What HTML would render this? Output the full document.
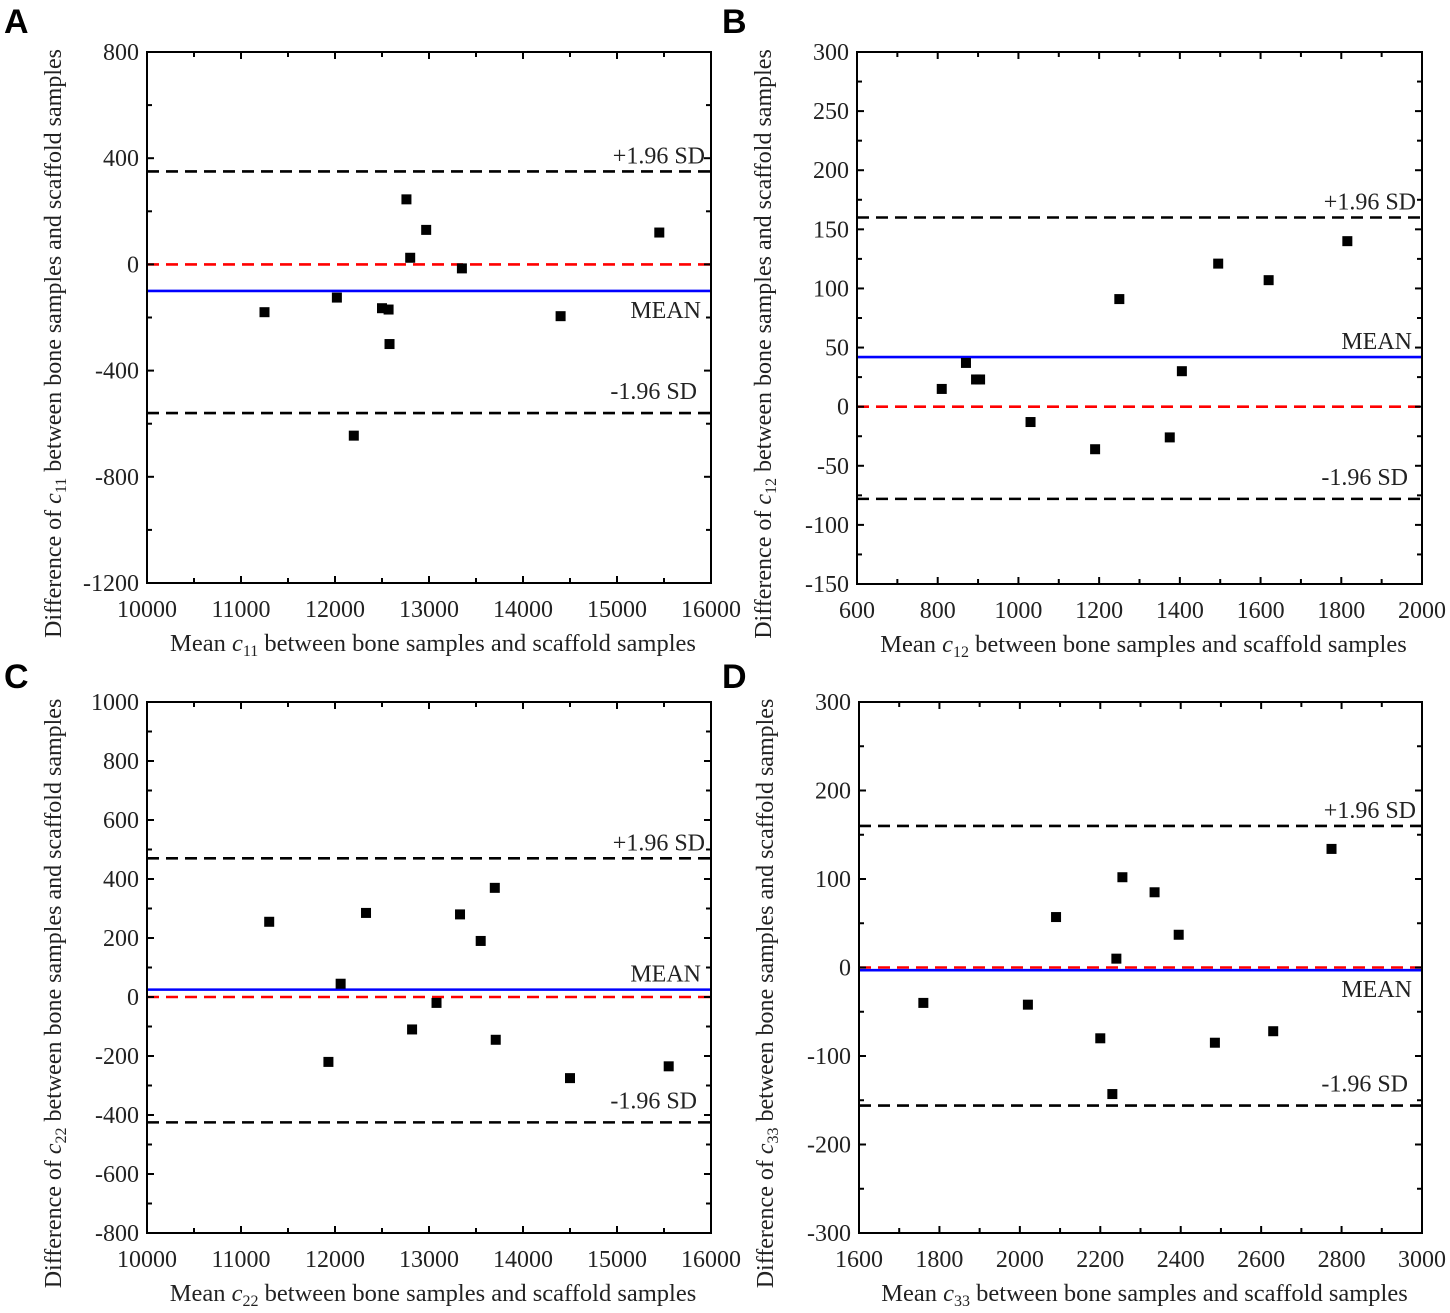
<!DOCTYPE html>
<html><head><meta charset="utf-8"><style>
body{margin:0;background:#fff;}
svg{display:block;}
svg text{font-family:"Liberation Serif",serif;}
svg text.pl{font-family:"Liberation Sans",sans-serif;font-weight:bold;font-size:34px;}
</style></head><body>
<svg id="c" width="1450" height="1313"></svg>
<script>
// Panel A data
const aX=[11250,12020,12200,12500,12570,12580,12760,12800,12970,13350,14400,15450];
const aY=[-180,-125,-645,-165,-170,-300,245,25,130,-15,-195,120];
const aLines=[-100,350,-560];
// Panel B data
const bX=[810,870,895,905,1030,1190,1250,1375,1405,1495,1620,1815];
const bY=[15,37,23,23,-13,-36,91,-26,30,121,107,140];
const bLines=[42,160,-78];
// Panel C data
const cX=[11300,11930,12060,12330,12820,13080,13330,13550,13700,13710,14500,15550];
const cY=[255,-220,45,285,-110,-20,280,190,370,-145,-275,-235];
const cLines=[25,470,-425];
// Panel D data
const dX=[1760,2020,2090,2200,2230,2240,2255,2335,2395,2485,2630,2775];
const dY=[-40,-42,57,-80,-143,10,102,85,37,-85,-72,134];
const dLines=[-3,160,-156];
const aXT=[10000,11000,12000,13000,14000,15000,16000], aYT=[800,400,0,-400,-800,-1200];
const bXT=[600,800,1000,1200,1400,1600,1800,2000], bYT=[300,250,200,150,100,50,0,-50,-100,-150];
const cXT=[10000,11000,12000,13000,14000,15000,16000], cYT=[1000,800,600,400,200,0,-200,-400,-600,-800];
const dXT=[1600,1800,2000,2200,2400,2600,2800,3000], dYT=[300,200,100,0,-100,-200,-300];

const NS="http://www.w3.org/2000/svg";
const svg=document.getElementById('c');
function mk(t,a,p){const e=document.createElementNS(NS,t);for(const k in a)e.setAttribute(k,a[k]);(p||svg).appendChild(e);return e;}
const SERIF='"Liberation Serif", serif';

function panel(o){
  const g=mk('g',{});
  
  
  const L=o.L,T=o.T,R=o.R,B=o.B;
  const x0=o.xt[0],x1=o.xt[o.xt.length-1],y0=o.yt[o.yt.length-1],y1=o.yt[0];
  const sx=v=>L+(v-x0)/(x1-x0)*(R-L), sy=v=>B-(v-y0)/(y1-y0)*(B-T);
  const lab=mk('text',{x:o.lx,y:o.ly,class:'pl'},g);lab.textContent=o.letter;
  
  
  const [m,u,l]=o.lines;
  const ln=(v,col,dash,name)=>{const e=mk('line',{x1:L,x2:R,y1:sy(v),y2:sy(v),stroke:col,'stroke-width':2.6,'stroke-dasharray':dash||'none'},g);
    };
  ln(0,'#f00','12 7','zero-line');
  ln(u,'#000','12 7','upper-limit-line');
  ln(l,'#000','12 7','lower-limit-line');
  ln(m,'#00f',null,'mean-line');
  const txt=(s,x,y,anchor,name,size)=>{const e=mk('text',{x:x,y:y,'text-anchor':anchor,'font-size':size||24,fill:'#222','font-family':SERIF},g);e.textContent=s;
    return e;};
  txt('+1.96 SD',R-6,sy(u)-8,'end','upper-limit-label');
  txt('-1.96 SD',R-14,sy(l)-14,'end','lower-limit-label');
  txt('MEAN',R-10,o.meanBelow?sy(m)+27:sy(m)-8,'end','mean-label');
  o.x.forEach((v,i)=>{const r=mk('rect',{x:sx(v)-5,y:sy(o.y[i])-5,width:10,height:10,fill:'#000'},g);
    });
  const bx=mk('rect',{x:L,y:T,width:R-L,height:B-T,fill:'none',stroke:'#000','stroke-width':2},g);
  
  o.xt.forEach((v,i)=>{const X=sx(v);
    mk('line',{x1:X,x2:X,y1:B,y2:B-7,stroke:'#000','stroke-width':2},g);
    mk('line',{x1:X,x2:X,y1:T,y2:T+7,stroke:'#000','stroke-width':2},g);
    if(i<o.xt.length-1){const Xm=sx((v+o.xt[i+1])/2);
      mk('line',{x1:Xm,x2:Xm,y1:B,y2:B-5,stroke:'#000','stroke-width':2},g);
      mk('line',{x1:Xm,x2:Xm,y1:T,y2:T+5,stroke:'#000','stroke-width':2},g);}
    txt(String(v),X,B+34,'middle','x-tick-label',24);});
  o.yt.forEach((v,i)=>{const Y=sy(v);
    mk('line',{x1:L,x2:L+7,y1:Y,y2:Y,stroke:'#000','stroke-width':2},g);
    mk('line',{x1:R,x2:R-7,y1:Y,y2:Y,stroke:'#000','stroke-width':2},g);
    if(i<o.yt.length-1){const Ym=sy((v+o.yt[i+1])/2);
      mk('line',{x1:L,x2:L+5,y1:Ym,y2:Ym,stroke:'#000','stroke-width':2},g);
      mk('line',{x1:R,x2:R-5,y1:Ym,y2:Ym,stroke:'#000','stroke-width':2},g);}
    txt(String(v),L-8,Y+8,'end','y-tick-label',24);});
  const xt=mk('text',{x:(L+R)/2+4,y:B+68,'text-anchor':'middle','font-size':24.5,fill:'#222','font-family':SERIF},g);
  xt.innerHTML='Mean <tspan font-style="italic">c</tspan><tspan font-size="16" dy="5">'+o.sub+'</tspan><tspan dy="-5"> between bone samples and scaffold samples</tspan>';
  
  const cy=(T+B)/2+26;
  const yx=L-86;
  const yt=mk('text',{x:yx,y:cy,'text-anchor':'middle','font-size':24,fill:'#222','font-family':SERIF,transform:'rotate(-90 '+yx+' '+cy+')'},g);
  yt.innerHTML='Difference of <tspan font-style="italic">c</tspan><tspan font-size="16" dy="5">'+o.sub+'</tspan><tspan dy="-5"> between bone samples and scaffold samples</tspan>';
  
}
panel({letter:'A',lx:4,ly:33,L:147,T:52,R:711,B:583,x:aX,y:aY,lines:aLines,xt:aXT,yt:aYT,sub:'11',meanBelow:true});
panel({letter:'B',lx:722,ly:33,L:857,T:52,R:1422,B:584,x:bX,y:bY,lines:bLines,xt:bXT,yt:bYT,sub:'12',meanBelow:false});
panel({letter:'C',lx:4,ly:688,L:147,T:702,R:711,B:1233,x:cX,y:cY,lines:cLines,xt:cXT,yt:cYT,sub:'22',meanBelow:false});
panel({letter:'D',lx:722,ly:688,L:859,T:702,R:1422,B:1233,x:dX,y:dY,lines:dLines,xt:dXT,yt:dYT,sub:'33',meanBelow:true});
</script>
</body></html>
